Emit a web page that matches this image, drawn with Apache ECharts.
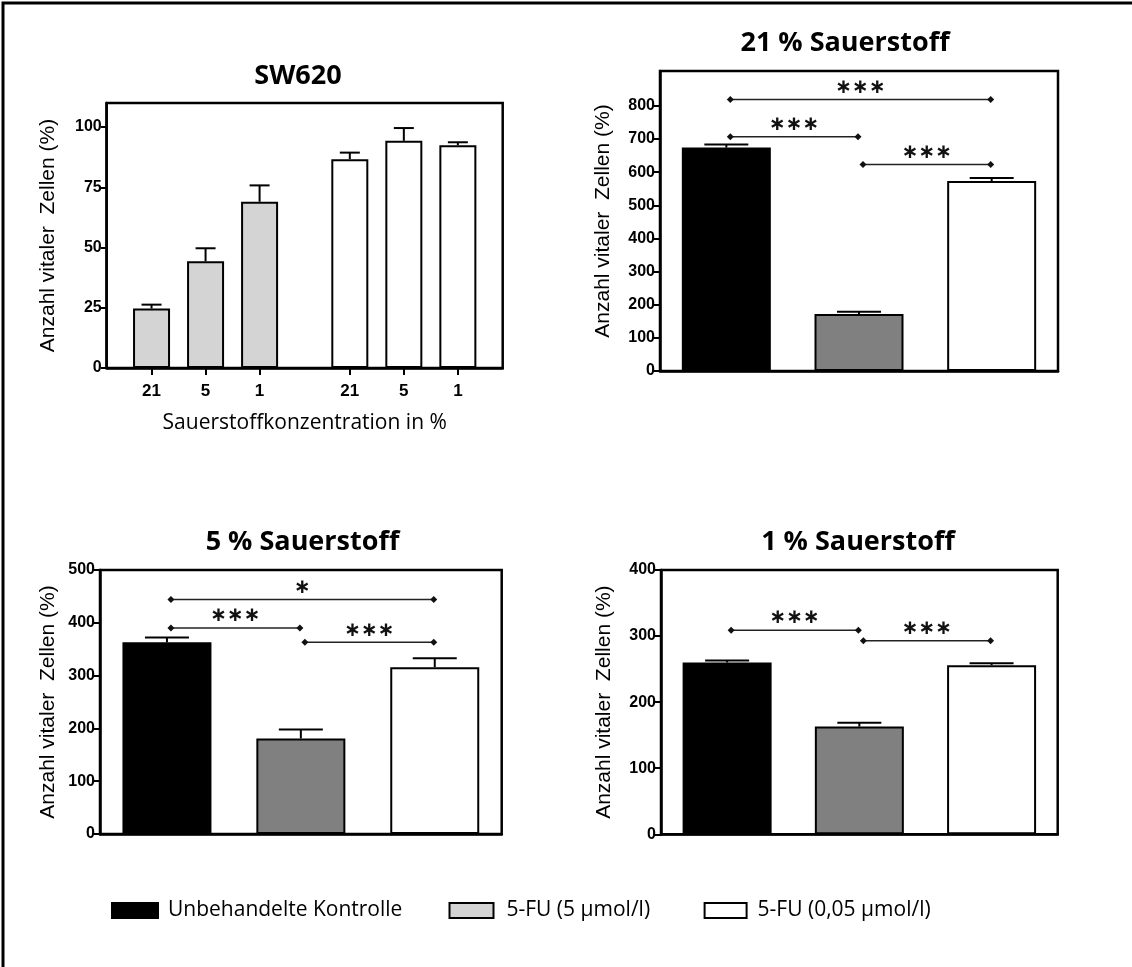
<!DOCTYPE html>
<html>
<head>
<meta charset="utf-8">
<script src="https://cdn.jsdelivr.net/npm/echarts@6/dist/echarts.min.js"></script>
<style>
	html, body { margin: 0; padding: 0; background: #fff; }
	#chart { width: 1132px; height: 967px; }
</style>
</head>
<body>
<div id="chart"></div>
<script>
// --- data ---
const groups = ['Unbehandelte Kontrolle', '5-FU (5 µmol/l)', '5-FU (0,05 µmol/l)']

// SW620 panel: x slots (two groups of oxygen levels)
const sw620Ticks = ['21', '5', '1', '21', '5', '1']
const sw620Pos = [0.83, 1.83, 2.83, 4.5, 5.5, 6.5]
const sw620Fu5 = [24.7, 44.3, 69.0]
const sw620Fu5Sd = [1.6, 5.4, 6.8]
const sw620Fu005 = [86.7, 94.3, 92.5]
const sw620Fu005Sd = [2.7, 5.3, 1.2]
const sw620YTicks = [0, 25, 50, 75, 100]

// 21 % Sauerstoff
const o21Mean = [674, 172, 573]
const o21Sd = [9, 7, 9]
const o21YTicks = [0, 100, 200, 300, 400, 500, 600, 700, 800]
const o21Sig = [[0, 2, 819, '***'], [0, 1, 707, '***'], [1, 2, 623, '***']]

// 5 % Sauerstoff
const o5Mean = [363, 181, 316]
const o5Sd = [9, 17, 17]
const o5Sig = [[0, 2, 444, '*'], [0, 1, 390, '***'], [1, 2, 363, '***']]

// 1 % Sauerstoff
const o1Mean = [260, 163, 256]
const o1Sd = [3, 6, 3]
const o1Sig = [[0, 1, 309, '***'], [1, 2, 293, '***']]

// --- styles ---
const fills = ['#000000', '#808080', '#ffffff']
const lightGray = '#d4d4d4'
const tickFont = { color: '#000', fontFamily: 'Liberation Sans, Arial', fontWeight: 'bold', fontSize: 16 }
const nameFont = { color: '#000', fontFamily: 'Liberation Sans, Arial', fontSize: 21 }
const lineBlack = { lineStyle: { color: '#000', width: 2.5 } }

const chart = echarts.init(document.getElementById('chart'))

const errRender = (capW) => (params, api) => {
	const x = api.value(0)
	const m = api.value(1)
	const sd = api.value(2)
	const p0 = api.coord([x, m])
	const p1 = api.coord([x, m + sd])
	return {
		type: 'group',
		children: [
			{ type: 'line', shape: { x1: p0[0], y1: p0[1], x2: p1[0], y2: p1[1] }, style: { stroke: '#000', lineWidth: 2 } },
			{ type: 'line', shape: { x1: p1[0] - capW / 2, y1: p1[1], x2: p1[0] + capW / 2, y2: p1[1] }, style: { stroke: '#000', lineWidth: 2 } },
		],
	}
}

const sigRender = (sig) => (params, api) => {
	const s = sig[params.dataIndex]
	const a = api.coord([s[0], s[2]])
	const b = api.coord([s[1], s[2]])
	const x1 = a[0] + 4
	const x2 = b[0] - 1
	const y = a[1]
	const dia = (cx) => ({
		type: 'polygon',
		shape: { points: [[cx, y - 3.5], [cx + 3.5, y], [cx, y + 3.5], [cx - 3.5, y]] },
		style: { fill: '#111' },
	})
	return {
		type: 'group',
		children: [
			{ type: 'line', shape: { x1: x1, y1: y, x2: x2, y2: y }, style: { stroke: '#222', lineWidth: 1.5 } },
			dia(x1),
			dia(x2),
			{
				type: 'text',
				x: (x1 + x2) / 2,
				y: y - 12,
				style: {
					text: s[3].replace(/\*/g, '\u2217'),
					fill: '#111',
					font: 'bold 20px "DejaVu Sans"',
					align: 'center',
					verticalAlign: 'middle',
				},
			},
		],
	}
}

// bar + error + significance series for one of the three oxygen panels
const panelSeries = (g, mean, sd, sig) => {
	const out = []
	groups.forEach((name, i) => {
		out.push({
			type: 'bar',
			name: name,
			xAxisIndex: g,
			yAxisIndex: g,
			barWidth: 89,
			barGap: '-100%',
			data: mean.map((v, j) => (j === i ? v : '-')),
			itemStyle: { color: fills[i], borderColor: '#000', borderWidth: 2 },
			emphasis: { disabled: true },
		})
	})
	out.push({
		type: 'custom',
		xAxisIndex: g,
		yAxisIndex: g,
		z: 3,
		renderItem: errRender(44),
		encode: { x: 0, y: 1 },
		data: mean.map((v, j) => [j, v, sd[j]]),
	})
	out.push({
		type: 'custom',
		xAxisIndex: g,
		yAxisIndex: g,
		z: 4,
		renderItem: sigRender(sig),
		encode: { x: [0, 1], y: 2 },
		data: sig.map((s) => [s[0], s[1], s[2]]),
	})
	return out
}

const catX = (g) => ({
	type: 'category',
	gridIndex: g,
	data: groups,
	axisLine: lineBlack,
	axisTick: { alignWithLabel: true, length: 7, lineStyle: { color: '#000', width: 2 } },
	axisLabel: { show: false },
})

const valY = (g, max, ticks, gap) => ({
	type: 'value',
	gridIndex: g,
	min: 0,
	max: max,
	name: 'Anzahl vitaler  Zellen (%)',
	nameLocation: 'middle',
	nameGap: gap,
	nameTextStyle: nameFont,
	axisLine: { show: true, ...lineBlack },
	axisTick: { show: true, length: 6, customValues: ticks, lineStyle: { color: '#000', width: 2 } },
	axisLabel: { ...tickFont, margin: 5, customValues: ticks },
	splitLine: { show: false },
})

const gridBox = { show: true, borderColor: '#000', borderWidth: 2.5, backgroundColor: 'transparent', outerBoundsMode: 'none' }

const titleText = (text, x, y) => ({
	type: 'text',
	x: x,
	y: y,
	style: {
		text: text,
		fill: '#000',
		font: 'bold 27px "Open Sans"',
		align: 'center',
		verticalAlign: 'middle',
	},
})

const legendItem = (name, left, w, pad) => ({
	data: [name],
	left: left,
	top: 895,
	icon: 'rect',
	itemWidth: w,
	itemHeight: 15,
	selectedMode: false,
	textStyle: { color: '#000', fontFamily: 'Open Sans', fontSize: 21, padding: [0, 0, 0, pad] },
})

const options = {
	animation: false,
	backgroundColor: '#fff',
	grid: [
		{ left: 106.7, top: 103, width: 396, height: 265, ...gridBox },
		{ left: 660, top: 71, width: 398, height: 300, ...gridBox },
		{ left: 100, top: 570, width: 401.7, height: 264, ...gridBox },
		{ left: 661, top: 570, width: 396.7, height: 264.3, ...gridBox },
	],
	xAxis: [
		{
			type: 'value',
			gridIndex: 0,
			min: 0,
			max: 7.33,
			name: 'Sauerstoffkonzentration in %',
			nameLocation: 'middle',
			nameGap: 45,
			nameTextStyle: { color: '#000', fontFamily: 'Open Sans', fontSize: 21 },
			axisLine: lineBlack,
			axisTick: { show: true, length: 7, customValues: sw620Pos, lineStyle: { color: '#000', width: 2 } },
			axisLabel: {
				...tickFont,
				fontSize: 17,
				margin: 15,
				customValues: sw620Pos,
				formatter: (v) => {
					let best = 0
					sw620Pos.forEach((p, i) => {
						if (Math.abs(p - v) < Math.abs(sw620Pos[best] - v)) best = i
					})
					return sw620Ticks[best]
				},
			},
			splitLine: { show: false },
		},
		catX(1),
		catX(2),
		catX(3),
	],
	yAxis: [
		valY(0, 110, sw620YTicks, 48),
		valY(1, 905, o21YTicks, 46),
		valY(2, 500, [0, 100, 200, 300, 400, 500], 41),
		valY(3, 400, [0, 100, 200, 300, 400], 46),
	],
	legend: [
		legendItem(groups[0], 106, 46, 5),
		legendItem(groups[1], 443.5, 44, 8),
		legendItem(groups[2], 698.6, 42, 6),
	],
	graphic: [
		titleText('SW620', 298, 76),
		titleText('21 % Sauerstoff', 845, 43),
		titleText('5 % Sauerstoff', 302.5, 542),
		titleText('1 % Sauerstoff', 858, 542),
		{
			type: 'polyline',
			shape: { points: [[3, 967], [3, 3], [1132, 3]] },
			style: { stroke: '#000', lineWidth: 3, fill: null },
		},
	],
	series: [
		{
			type: 'bar',
			name: groups[1],
			xAxisIndex: 0,
			yAxisIndex: 0,
			barWidth: 37,
			barGap: '-100%',
			data: sw620Fu5.map((v, i) => [sw620Pos[i], v]),
			itemStyle: { color: lightGray, borderColor: '#000', borderWidth: 2 },
			emphasis: { disabled: true },
		},
		{
			type: 'bar',
			name: groups[2],
			xAxisIndex: 0,
			yAxisIndex: 0,
			barWidth: 37,
			barGap: '-100%',
			data: sw620Fu005.map((v, i) => [sw620Pos[i + 3], v]),
			itemStyle: { color: '#fff', borderColor: '#000', borderWidth: 2 },
			emphasis: { disabled: true },
		},
		{
			type: 'custom',
			xAxisIndex: 0,
			yAxisIndex: 0,
			z: 3,
			renderItem: errRender(20),
			encode: { x: 0, y: 1 },
			data: sw620Fu5.map((v, i) => [sw620Pos[i], v, sw620Fu5Sd[i]])
				.concat(sw620Fu005.map((v, i) => [sw620Pos[i + 3], v, sw620Fu005Sd[i]])),
		},
		...panelSeries(1, o21Mean, o21Sd, o21Sig),
		...panelSeries(2, o5Mean, o5Sd, o5Sig),
		...panelSeries(3, o1Mean, o1Sd, o1Sig),
	],
}

chart.setOption(options)
window.addEventListener('resize', () => {
	chart.resize()
})
</script>
</body>
</html>
